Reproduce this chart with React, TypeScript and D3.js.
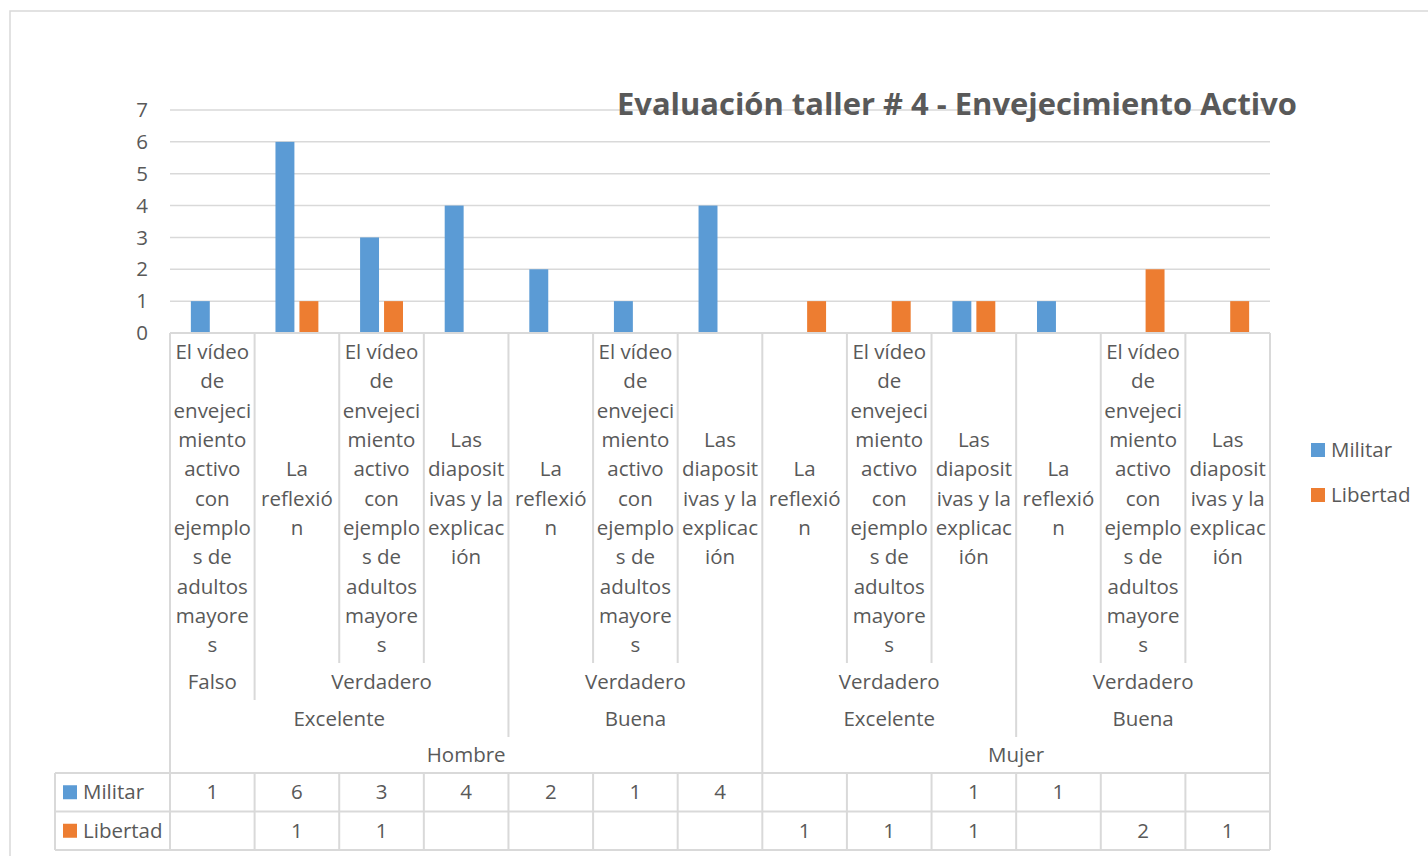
import * as d3 from "d3";
import { useEffect, useRef } from "react";

// Category hierarchy (outer -> inner) for each leaf column
const genders = ["Hombre", "Hombre", "Hombre", "Hombre", "Hombre", "Hombre", "Hombre", "Mujer", "Mujer", "Mujer", "Mujer", "Mujer", "Mujer"];
const ratings = ["Excelente", "Excelente", "Excelente", "Excelente", "Buena", "Buena", "Buena", "Excelente", "Excelente", "Excelente", "Buena", "Buena", "Buena"];
const flags = ["Falso", "Verdadero", "Verdadero", "Verdadero", "Verdadero", "Verdadero", "Verdadero", "Verdadero", "Verdadero", "Verdadero", "Verdadero", "Verdadero", "Verdadero"];
const items = ["video", "reflexion", "video", "diapositivas", "reflexion", "video", "diapositivas", "reflexion", "video", "diapositivas", "reflexion", "video", "diapositivas"];

// Excel wraps these long labels inside the narrow columns
const itemLines: Record<string, string[]> = {
  video: ["El vídeo", "de", "envejeci", "miento", "activo", "con", "ejemplo", "s de", "adultos", "mayore", "s"],
  reflexion: ["La", "reflexió", "n"],
  diapositivas: ["Las", "diaposit", "ivas y la", "explicac", "ión"],
};

const militar = [1, 6, 3, 4, 2, 1, 4, null, null, 1, 1, null, null];
const libertad = [null, 1, 1, null, null, null, null, 1, 1, 1, null, 2, 1];

const seriesNames = ["Militar", "Libertad"];
const seriesColors = ["#5b9bd5", "#ed7d31"];
const yTicks = [0, 1, 2, 3, 4, 5, 6, 7];

const title = "Evaluación taller # 4 - Envejecimiento Activo";

const FONT = "'Open Sans', 'Noto Sans', sans-serif";
const FS = 20.5;
const TEXT = "#595959";
const LINE = "#d9d9d9";

// group consecutive equal keys into spans
function spans(keys: string[]) {
  const out: { label: string; start: number; end: number }[] = [];
  keys.forEach((k, i) => {
    const last = out[out.length - 1];
    if (last && last.label === k && last.end === i) last.end = i + 1;
    else out.push({ label: k, start: i, end: i + 1 });
  });
  return out;
}

export default function App() {
  const svgRef = useRef<SVGSVGElement>(null);

  useEffect(() => {
    if (!svgRef.current) return;
    const svg = d3.select(svgRef.current);
    svg.selectAll("*").remove();

    const W = 1428;
    const H = 856;
    const left = 170;
    const right = 1270;
    const top = 110;
    const bottom = 333;

    // chart border (extends past the picture on right and bottom)
    svg
      .append("rect")
      .attr("x", 10)
      .attr("y", 11)
      .attr("width", W + 20)
      .attr("height", H + 20)
      .attr("fill", "white")
      .attr("stroke", LINE)
      .attr("stroke-width", 1.5);

    const idx = militar.map((_, i) => String(i));
    const x = d3.scaleBand().domain(idx).range([left, right]).padding(0);
    const bw = x.bandwidth();
    const x1 = d3
      .scaleBand()
      .domain(seriesNames)
      .range([0, bw])
      .paddingInner(0.21)
      .paddingOuter(0.87);
    const y = d3.scaleLinear().domain([0, 7]).range([bottom, top]);

    // gridlines
    svg
      .append("g")
      .selectAll("line")
      .data(yTicks.slice(1))
      .enter()
      .append("line")
      .attr("x1", left)
      .attr("x2", right)
      .attr("y1", (d) => y(d))
      .attr("y2", (d) => y(d))
      .attr("stroke", LINE)
      .attr("stroke-width", 1.5);

    // y labels
    svg
      .append("g")
      .selectAll("text")
      .data(yTicks)
      .enter()
      .append("text")
      .attr("x", 148)
      .attr("y", (d) => y(d))
      .attr("dy", "0.35em")
      .attr("text-anchor", "end")
      .attr("font-family", FONT)
      .attr("font-size", FS)
      .attr("fill", TEXT)
      .text((d) => d);

    // bars
    const seriesData = [militar, libertad];
    seriesData.forEach((vals, si) => {
      svg
        .append("g")
        .selectAll("rect")
        .data(vals.map((v, i) => ({ v, i })).filter((d) => d.v != null))
        .enter()
        .append("rect")
        .attr("x", (d) => (x(String(d.i)) || 0) + (x1(seriesNames[si]) || 0))
        .attr("y", (d) => y(d.v as number))
        .attr("width", x1.bandwidth())
        .attr("height", (d) => bottom - y(d.v as number))
        .attr("fill", seriesColors[si]);
    });

    // axis line
    svg
      .append("line")
      .attr("x1", left)
      .attr("x2", right)
      .attr("y1", bottom)
      .attr("y2", bottom)
      .attr("stroke", LINE)
      .attr("stroke-width", 2);

    // multi-level category axis
    const rows = [
      { y0: 333, y1: 663 },
      { y0: 663, y1: 700 },
      { y0: 700, y1: 737 },
      { y0: 737, y1: 773 },
    ];
    const tableTop = 773;
    const rowH = 38.5;
    const tableBottom = tableTop + rowH * 2;
    const xs = (i: number) => (i >= idx.length ? right : x(String(i)) || 0);

    const axisG = svg.append("g");

    // separators: each boundary extends down through the deepest level it separates
    const prefixKeys = (lvl: number) =>
      idx.map((_, i) => [genders[i], ratings[i], flags[i], items[i] + i].slice(0, 4 - lvl).join("|"));
    for (let b = 0; b <= idx.length; b++) {
      let lastRow = 0;
      if (b === 0 || b === idx.length) lastRow = 4;
      else {
        for (let lvl = 0; lvl < 4; lvl++) {
          const keys = prefixKeys(lvl);
          if (keys[b] !== keys[b - 1]) lastRow = lvl + 1;
        }
      }
      const yEnd = lastRow >= 4 ? tableTop : rows[lastRow - 1].y1;
      axisG
        .append("line")
        .attr("x1", xs(b))
        .attr("x2", xs(b))
        .attr("y1", bottom)
        .attr("y2", yEnd)
        .attr("stroke", LINE)
        .attr("stroke-width", 2);
    }

    // leaf labels
    const lh = 29.3;
    const midLeaf = (rows[0].y0 + rows[0].y1) / 2 + 0.5;
    items.forEach((it, i) => {
      const lines = itemLines[it];
      const cx = (x(String(i)) || 0) + bw / 2;
      const t = axisG
        .append("text")
        .attr("text-anchor", "middle")
        .attr("font-family", FONT)
        .attr("font-size", FS)
        .attr("fill", TEXT);
      lines.forEach((ln, k) => {
        t.append("tspan")
          .attr("x", cx)
          .attr("y", midLeaf + (k - (lines.length - 1) / 2) * lh)
          .attr("dy", "0.35em")
          .text(ln);
      });
    });

    // upper level labels
    [flags, ratings, genders].forEach((keys, li) => {
      const lvl = li + 1;
      const sp = spans(prefixKeys(lvl));
      const row = rows[lvl];
      sp.forEach((s) => {
        axisG
          .append("text")
          .attr("x", (xs(s.start) + xs(s.end)) / 2)
          .attr("y", (row.y0 + row.y1) / 2)
          .attr("dy", "0.35em")
          .attr("text-anchor", "middle")
          .attr("font-family", FONT)
          .attr("font-size", FS)
          .attr("fill", TEXT)
          .text(keys[s.start]);
      });
    });

    // data table
    const tableLeft = 55;
    const tg = svg.append("g");
    [tableTop, tableTop + rowH, tableBottom].forEach((ty) => {
      tg.append("line")
        .attr("x1", tableLeft)
        .attr("x2", right)
        .attr("y1", ty)
        .attr("y2", ty)
        .attr("stroke", LINE)
        .attr("stroke-width", 2);
    });
    [tableLeft, ...d3.range(idx.length + 1).map(xs)].forEach((tx) => {
      tg.append("line")
        .attr("x1", tx)
        .attr("x2", tx)
        .attr("y1", tableTop)
        .attr("y2", tableBottom)
        .attr("stroke", LINE)
        .attr("stroke-width", 2);
    });

    seriesData.forEach((vals, si) => {
      const cy = tableTop + rowH * si + rowH / 2;
      tg.append("rect")
        .attr("x", 63)
        .attr("y", cy - 7)
        .attr("width", 14)
        .attr("height", 14)
        .attr("fill", seriesColors[si]);
      tg.append("text")
        .attr("x", 83)
        .attr("y", cy)
        .attr("dy", "0.35em")
        .attr("font-family", FONT)
        .attr("font-size", FS)
        .attr("fill", TEXT)
        .text(seriesNames[si]);
      vals.forEach((v, i) => {
        if (v == null) return;
        tg.append("text")
          .attr("x", (x(String(i)) || 0) + bw / 2)
          .attr("y", cy)
          .attr("dy", "0.35em")
          .attr("text-anchor", "middle")
          .attr("font-family", FONT)
          .attr("font-size", FS)
          .attr("fill", TEXT)
          .text(v);
      });
    });

    // legend
    const lg = svg.append("g");
    seriesNames.forEach((name, si) => {
      const cy = 450 + si * 45;
      lg.append("rect")
        .attr("x", 1311)
        .attr("y", cy - 7)
        .attr("width", 14)
        .attr("height", 14)
        .attr("fill", seriesColors[si]);
      lg.append("text")
        .attr("x", 1331)
        .attr("y", cy)
        .attr("dy", "0.35em")
        .attr("font-family", FONT)
        .attr("font-size", FS)
        .attr("fill", TEXT)
        .text(name);
    });

    // title
    svg
      .append("text")
      .attr("x", 617)
      .attr("y", 115)
      .attr("textLength", 680)
      .attr("lengthAdjust", "spacingAndGlyphs")
      .attr("font-family", FONT)
      .attr("font-size", 31)
      .attr("font-weight", "bold")
      .attr("fill", TEXT)
      .text(title);
  }, []);

  return (
    <svg
      ref={svgRef}
      width={1428}
      height={856}
      style={{ position: "absolute", left: 0, top: 0, display: "block" }}
    />
  );
}
